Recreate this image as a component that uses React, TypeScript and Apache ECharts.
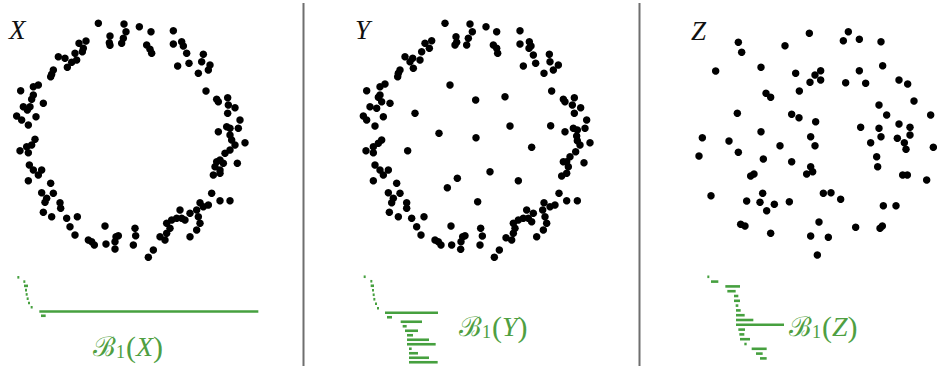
import React, { useEffect, useRef } from "react";
import * as echarts from "echarts";

// Point clouds, each in its own panel units (x right, y down).
const pointsX: number[][] = [
  [295, 40], [372, 42], [378, 65], [370, 85], [330, 78], [328, 98], [330, 106], [365, 100],
  [418, 50], [453, 65], [440, 105], [450, 118], [455, 130],
  [520, 62], [520, 102], [545, 95], [550, 108], [560, 130], [610, 133], [605, 155], [630, 165], [625, 180], [595, 190], [567, 160], [533, 168],
  [237, 100], [258, 93], [250, 115], [247, 125], [225, 130], [230, 150], [215, 157], [202, 172], [195, 145], [175, 140], [160, 180], [155, 193], [152, 200],
  [115, 225], [100, 230], [62, 242], [100, 255], [95, 268], [130, 280], [70, 290], [90, 290], [82, 300], [50, 318], [65, 330], [108, 320], [85, 345],
  [105, 388], [95, 405], [80, 410], [60, 422], [85, 428],
  [88, 465], [100, 480], [125, 480], [115, 495], [85, 512],
  [152, 520], [125, 548], [160, 550], [140, 565], [135, 577], [180, 578], [182, 595], [130, 607], [155, 620], [200, 625], [232, 620], [210, 650], [225, 675],
  [265, 690], [283, 705], [275, 695], [315, 648], [318, 702], [345, 695], [348, 680], [355, 677], [345, 717], [405, 655], [407, 677], [400, 705], [460, 720], [445, 742],
  [618, 243], [650, 268], [655, 275], [683, 263], [685, 285], [705, 293], [683, 310], [720, 330], [680, 350], [690, 355], [715, 355], [655, 365], [690, 375],
  [695, 390], [735, 398], [705, 405], [690, 420], [675, 430], [660, 450], [650, 455], [670, 460], [645, 470], [712, 460], [660, 480], [640, 495], [660, 490],
  [635, 550], [660, 572], [690, 572], [600, 578], [590, 600], [610, 590], [625, 585], [540, 600], [530, 625], [515, 630], [500, 640], [545, 625], [555, 630],
  [570, 610], [595, 620], [600, 640], [590, 660], [570, 680], [510, 655], [500, 670], [495, 690], [480, 680],
];

const pointsY: number[][] = [
  [315, 40], [390, 42], [397, 65], [385, 85], [380, 105], [348, 80], [350, 97], [345, 105], [438, 50], [470, 65], [460, 105], [470, 115], [473, 130],
  [540, 62], [540, 102], [568, 95], [573, 108], [567, 115], [580, 135], [628, 133], [630, 155], [655, 165], [640, 180], [612, 190], [587, 160], [550, 168],
  [275, 92], [255, 100], [268, 115], [245, 125], [240, 150], [218, 145], [220, 175], [195, 140], [210, 155], [180, 180], [175, 190], [173, 200],
  [135, 222], [120, 230], [80, 242], [120, 255], [115, 262], [125, 275], [150, 280], [90, 290], [110, 295], [70, 318], [80, 330], [130, 320], [105, 348],
  [125, 390], [115, 400], [100, 410], [78, 422], [100, 428],
  [105, 465], [120, 480], [145, 480], [130, 495], [100, 512],
  [170, 520], [145, 548], [180, 550], [160, 565], [155, 578], [200, 578], [200, 595], [148, 607], [175, 620], [215, 625], [252, 620], [230, 650], [243, 675],
  [285, 690], [303, 705], [295, 695], [333, 648], [335, 705], [363, 695], [368, 680], [375, 677], [362, 718], [422, 655], [427, 678], [420, 705], [478, 720], [463, 742],
  [635, 243], [670, 268], [675, 275], [703, 263], [697, 285], [722, 293], [703, 310], [740, 330], [700, 355], [712, 360], [735, 355], [675, 365], [710, 378],
  [712, 392], [750, 398], [720, 405], [707, 425], [690, 440], [680, 455], [670, 455], [685, 470], [732, 458], [680, 490], [665, 498],
  [657, 550], [680, 572], [712, 572], [612, 578], [608, 600], [630, 590], [645, 585], [560, 600], [580, 610], [550, 625], [535, 630], [520, 640], [565, 625],
  [575, 635], [615, 620], [620, 640], [610, 660], [590, 680], [525, 655], [520, 670], [515, 690], [498, 683],
  // interior points
  [330, 225], [407, 270], [495, 260], [225, 310], [510, 348], [632, 347], [297, 370], [408, 383], [575, 412], [203, 422], [450, 485], [352, 505], [322, 533],
  [535, 512], [413, 575],
];

const pointsZ: number[][] = [
  [388, 40], [505, 35], [490, 62], [538, 58], [603, 65], [175, 67], [185, 97], [315, 77], [107, 153], [243, 142], [347, 160], [405, 165], [422, 152],
  [422, 180], [390, 187], [497, 188], [538, 152], [557, 190], [608, 137], [657, 180], [683, 192], [358, 213], [258, 220], [272, 232], [702, 243],
  [597, 255], [620, 285], [172, 280], [335, 283], [357, 293], [407, 305], [752, 285], [542, 322], [597, 325], [657, 312], [690, 322], [243, 335],
  [690, 345], [603, 350], [652, 355], [673, 368], [678, 388], [67, 353], [147, 363], [392, 350], [405, 377], [300, 377], [572, 368], [760, 382],
  [57, 408], [175, 397], [250, 417], [335, 425], [590, 410], [593, 440], [392, 440], [398, 455], [380, 462], [222, 462], [212, 468], [668, 465],
  [682, 465], [740, 480], [93, 527], [248, 520], [430, 520], [453, 518], [482, 538], [200, 543], [240, 547], [283, 553], [260, 572], [328, 545],
  [610, 557], [648, 557], [417, 606], [182, 613], [195, 618], [272, 640], [527, 622], [600, 625], [607, 618], [392, 648], [445, 652], [412, 705],
];

// Persistence barcodes B1: [birth, death] per row, sorted by birth.
const barsX: number[][] = [
  [52, 58], [70, 76], [72, 84], [75, 81], [77, 83], [80, 86], [84, 90], [92, 98], [118, 775], [123, 137],
];
const barsY: number[][] = [
  [41, 45], [61, 65], [62, 72], [66, 70], [68, 72], [70, 74], [75, 79], [81, 85], [105, 264], [111, 126],
  [152, 216], [158, 170], [165, 204], [171, 189], [171, 237], [171, 257], [177, 185], [177, 204], [177, 237], [177, 263],
];
const barsZ: number[][] = [
  [52, 58], [63, 85], [106, 150], [112, 137], [132, 145], [132, 150], [137, 145], [138, 152], [138, 164], [138, 190],
  [138, 282], [145, 165], [148, 163], [150, 180], [163, 170], [185, 230], [198, 218], [210, 230],
];

const titles = ["X", "Y", "Z"];

const GREEN = "#46a03f";
const TEXT_GREEN = "#4f9f42";

function barcodeSeries(bars: number[][], idx: number) {
  return {
    type: "custom",
    xAxisIndex: idx,
    yAxisIndex: idx,
    silent: true,
    data: bars.map((b, i) => [b[0], b[1], i]),
    renderItem: (_p: any, api: any) => {
      const s = api.coord([api.value(0), api.value(2)]);
      const e = api.coord([api.value(1), api.value(2)]);
      return {
        type: "rect",
        shape: { x: s[0], y: s[1] - 1.3, width: Math.max(e[0] - s[0], 2), height: 2.6 },
        style: { fill: GREEN },
      };
    },
  };
}

function scatterSeries(pts: number[][], idx: number) {
  return {
    type: "scatter",
    xAxisIndex: idx,
    yAxisIndex: idx,
    silent: true,
    symbolSize: 7.5,
    itemStyle: { color: "#000", opacity: 1 },
    data: pts,
  };
}

function barcodeLabel(name: string, x: number, y: number, align: string) {
  const serif = "'Liberation Serif', 'DejaVu Serif', serif";
  return {
    type: "text",
    x,
    y,
    silent: true,
    style: {
      text: `{b|ℬ}{s|1}{p|(}{i|${name}}{p|)}`,
      align,
      verticalAlign: "middle",
      rich: {
        b: { fontFamily: "'DejaVu Serif', serif", fontSize: 27, fill: TEXT_GREEN },
        s: { fontFamily: serif, fontSize: 18, fill: TEXT_GREEN, padding: [12, 1, 0, 0] },
        p: { fontFamily: serif, fontSize: 30, fill: TEXT_GREEN },
        i: { fontFamily: serif, fontSize: 28, fontStyle: "italic", fill: TEXT_GREEN },
      },
    },
  };
}

export default function App() {
  const ref = useRef<HTMLDivElement>(null);

  useEffect(() => {
    if (!ref.current) return;
    const chart = echarts.init(ref.current, null, { renderer: "svg" });

    const scatterGrids = [
      { left: 0, top: 10, width: 260, height: 260 },
      { left: 340, top: 10, width: 260, height: 260 },
      { left: 680, top: 20, width: 257, height: 250 },
    ];
    const barGrids = [
      { left: 0, top: 275.2, width: 280, height: 42.7 },
      { left: 350, top: 274.5, width: 200, height: 90 },
      { left: 690, top: 274.4, width: 200, height: 86.4 },
    ];
    const scatterX = [780, 780, 771];
    const scatterY = [780, 780, 750];
    const barX = [840, 600, 600];
    const barRows = [barsX.length, barsY.length, barsZ.length];

    const hidden = { show: false };
    const xAxis: any[] = [];
    const yAxis: any[] = [];
    for (let i = 0; i < 3; i++) {
      xAxis.push({ gridIndex: i, type: "value", min: 0, max: scatterX[i], ...hidden });
      yAxis.push({ gridIndex: i, type: "value", min: 0, max: scatterY[i], inverse: true, ...hidden });
    }
    for (let i = 0; i < 3; i++) {
      xAxis.push({ gridIndex: 3 + i, type: "value", min: 0, max: barX[i], ...hidden });
      yAxis.push({ gridIndex: 3 + i, type: "value", min: -0.5, max: barRows[i] - 0.5, inverse: true, ...hidden });
    }

    const titleFont = "italic 27px 'Liberation Serif', serif";

    chart.setOption({
      animation: false,
      backgroundColor: "#fff",
      grid: [...scatterGrids, ...barGrids].map((g) => ({ ...g, containLabel: false })),
      xAxis,
      yAxis,
      series: [
        scatterSeries(pointsX, 0),
        scatterSeries(pointsY, 1),
        scatterSeries(pointsZ, 2),
        barcodeSeries(barsX, 3),
        barcodeSeries(barsY, 4),
        barcodeSeries(barsZ, 5),
      ],
      graphic: [
        { type: "line", silent: true, shape: { x1: 303.5, y1: 3, x2: 303.5, y2: 366 }, style: { stroke: "#6f6f6f", lineWidth: 2 } },
        { type: "line", silent: true, shape: { x1: 639.5, y1: 3, x2: 639.5, y2: 366 }, style: { stroke: "#6f6f6f", lineWidth: 2 } },
        { type: "text", x: 9, y: 30, silent: true, style: { text: titles[0], font: titleFont, fill: "#111", verticalAlign: "middle" } },
        { type: "text", x: 355, y: 30, silent: true, style: { text: titles[1], font: titleFont, fill: "#111", verticalAlign: "middle" } },
        { type: "text", x: 691, y: 31, silent: true, style: { text: titles[2], font: titleFont, fill: "#111", verticalAlign: "middle" } },
        barcodeLabel("X", 128, 346, "center"),
        barcodeLabel("Y", 459, 326, "left"),
        barcodeLabel("Z", 789, 326, "left"),
      ],
    });

    return () => chart.dispose();
  }, []);

  return (
    <div
      ref={ref}
      style={{ position: "fixed", left: 0, top: 0, width: 937, height: 366, background: "#fff" }}
    />
  );
}
